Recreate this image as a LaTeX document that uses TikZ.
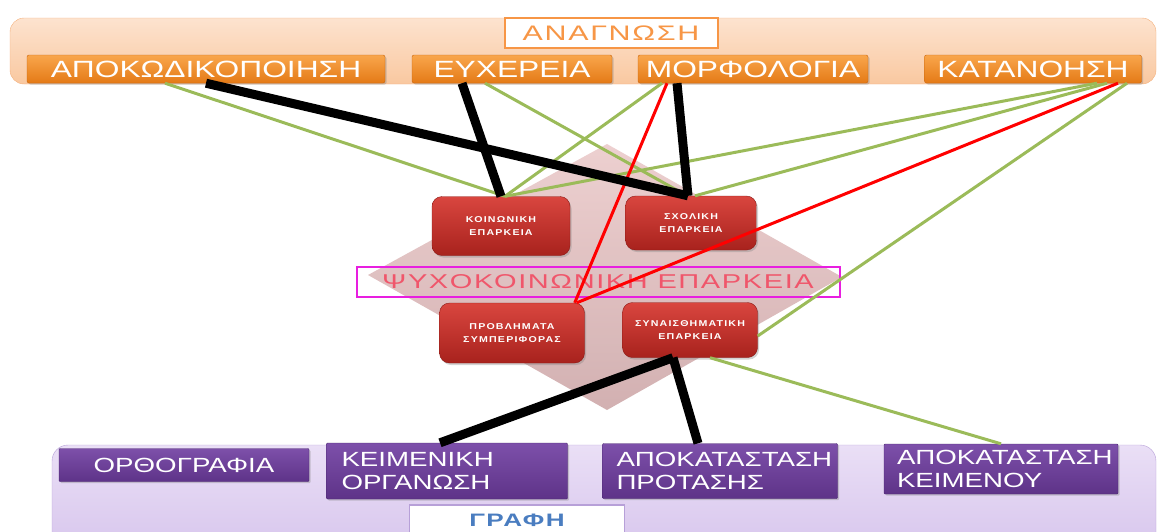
\documentclass[tikz,border=0pt]{standalone}
\usepackage{fontspec}
\setmainfont{Liberation Sans}
\newfontfamily\widefont[FakeStretch=1.35]{Liberation Sans}
\newfontfamily\labelfont[FakeStretch=1.45,LetterSpace=8]{Liberation Sans}
\newfontfamily\redfont[FakeStretch=1.25,LetterSpace=14]{Liberation Sans}
\usetikzlibrary{shadows}

\definecolor{peachtop}{HTML}{FDE3CF}
\definecolor{peachbot}{HTML}{F9C8A0}
\definecolor{peachedge}{HTML}{F4B07C}
\definecolor{orangetop}{HTML}{F9A64C}
\definecolor{orangebot}{HTML}{E47A16}
\definecolor{orangeedge}{HTML}{C8650E}
\definecolor{orangetext}{HTML}{F79646}
\definecolor{redtop}{HTML}{D9463F}
\definecolor{redbot}{HTML}{A8221D}
\definecolor{rededge}{HTML}{8A1A16}
\definecolor{pinktop}{HTML}{EBCBCB}
\definecolor{pinkbot}{HTML}{CDA8A9}
\definecolor{labelpink}{HTML}{F0566B}
\definecolor{framemagenta}{HTML}{E81EE0}
\definecolor{lilactop}{HTML}{EADFF6}
\definecolor{lilacbot}{HTML}{D4C1EB}
\definecolor{lilacedge}{HTML}{B7A0D8}
\definecolor{purpletop}{HTML}{7D50AA}
\definecolor{purplebot}{HTML}{5E3388}
\definecolor{purpleedge}{HTML}{4B2870}
\definecolor{writeblue}{HTML}{4A7DC0}
\definecolor{linkgreen}{HTML}{9BBB59}

\tikzset{
  readbox/.style={draw=orangeedge, top color=orangetop, bottom color=orangebot,
    rounded corners=2pt, inner sep=0pt, text=white,
    font=\widefont\fontsize{23.5}{26}\selectfont,
    drop shadow={opacity=0.35, shadow xshift=1.5pt, shadow yshift=-1.5pt}},
  skillbox/.style={draw=rededge, top color=redtop, bottom color=redbot,
    rounded corners=10pt, inner sep=0pt, text=white, align=center,
    font=\redfont\bfseries\fontsize{8.5}{13}\selectfont,
    drop shadow={opacity=0.35, shadow xshift=1.5pt, shadow yshift=-2pt}},
  writebox/.style={draw=purpleedge, top color=purpletop, bottom color=purplebot,
    rounded corners=1pt, inner sep=0pt, text=white,
    font=\widefont\fontsize{20.5}{23}\selectfont,
    drop shadow={opacity=0.35, shadow xshift=1.5pt, shadow yshift=-1.5pt}},
  blackline/.style={line width=9pt, black},
  greenline/.style={line width=3pt, linkgreen},
  redline/.style={line width=3pt, red}
}

\begin{document}
\begin{tikzpicture}[x=1pt,y=-1pt]
\useasboundingbox (0,0) rectangle (1158,531);
\clip (0,0) rectangle (1158,531);

\draw[draw=peachedge, top color=peachtop, bottom color=peachbot, rounded corners=14pt] (10,18) rectangle (1156,84);
\draw[draw=lilacedge, top color=lilactop, bottom color=lilacbot, rounded corners=16pt] (52,445) rectangle (1156,570);

\node[draw=orangetext, line width=2pt, fill=white, minimum width=213pt, minimum height=30pt, inner sep=0pt,
  text=orangetext, font=\labelfont\fontsize{21}{23}\selectfont] (anagnosi) at (611,33) {ΑΝΑΓΝΩΣΗ};
\node[readbox, minimum width=358pt, minimum height=28pt] (apok) at (206,69) {ΑΠΟΚΩΔΙΚΟΠΟΙΗΣΗ};
\node[readbox, minimum width=200pt, minimum height=28pt] (eux) at (512,69) {ΕΥΧΕΡΕΙΑ};
\node[readbox, minimum width=230pt, minimum height=28pt] (morf) at (753,69) {ΜΟΡΦΟΛΟΓΙΑ};
\node[readbox, minimum width=217pt, minimum height=28pt] (katan) at (1033,69) {ΚΑΤΑΝΟΗΣΗ};

\shade[top color=pinktop, bottom color=pinkbot, opacity=0.9] (607,144) -- (842,277) -- (607,410) -- (368,275) -- cycle;

\node[skillbox, minimum width=138pt, minimum height=59pt] (koin) at (501,226) {ΚΟΙΝΩΝΙΚΗ\\ΕΠΑΡΚΕΙΑ};
\node[skillbox, minimum width=131pt, minimum height=54pt] (sxol) at (691,223) {ΣΧΟΛΙΚΗ\\ΕΠΑΡΚΕΙΑ};
\node[skillbox, minimum width=145pt, minimum height=60pt] (provl) at (512,333) {ΠΡΟΒΛΗΜΑΤΑ\\ΣΥΜΠΕΡΙΦΟΡΑΣ};
\node[skillbox, minimum width=135pt, minimum height=55pt] (synais) at (690,330) {ΣΥΝΑΙΣΘΗΜΑΤΙΚΗ\\ΕΠΑΡΚΕΙΑ};

\node[draw=framemagenta, line width=2pt, minimum width=483pt, minimum height=30pt, inner sep=0pt,
  text=labelpink, font=\labelfont\fontsize{20}{22}\selectfont] (psycho) at (598,282) {ΨΥΧΟΚΟΙΝΩΝΙΚΗ ΕΠΑΡΚΕΙΑ};

\node[writebox, minimum width=250pt, minimum height=33pt] (orth) at (184,465) {ΟΡΘΟΓΡΑΦΙΑ};
\node[writebox, minimum width=241pt, minimum height=56pt, text width=211pt, inner xsep=15pt, align=left] (keim) at (447,471) {ΚΕΙΜΕΝΙΚΗ\\ΟΡΓΑΝΩΣΗ};
\node[writebox, minimum width=235pt, minimum height=55pt, text width=207pt, inner xsep=14pt, align=left] (prot) at (720,471) {ΑΠΟΚΑΤΑΣΤΑΣΗ\\ΠΡΟΤΑΣΗΣ};
\node[writebox, minimum width=234pt, minimum height=50pt, text width=208pt, inner xsep=13pt, align=left] (keimenou) at (1001,469) {ΑΠΟΚΑΤΑΣΤΑΣΗ\\ΚΕΙΜΕΝΟΥ};
\node[draw=lilacedge, line width=1.5pt, fill=white, minimum width=215pt, minimum height=30pt, inner sep=0pt,
  text=writeblue, font=\labelfont\bfseries\fontsize{18}{20}\selectfont] (grafi) at (517,520) {ΓΡΑΦΗ};

\draw[greenline] ([xshift=-41pt]apok.south) -- ([xshift=4pt]koin.north);
\draw[greenline] ([xshift=-27pt]eux.south) -- ([xshift=-4pt]sxol.north);
\draw[greenline] ([xshift=-91pt]morf.south) -- ([xshift=4pt]koin.north);
\draw[greenline] ([xshift=64pt]katan.south) -- ([xshift=4pt]koin.north);
\draw[greenline] ([xshift=74pt]katan.south) -- ([xshift=4pt]sxol.north);
\draw[greenline] ([xshift=94pt]katan.south) -- ([yshift=-6pt]synais.east);
\draw[greenline] ([xshift=20pt]synais.south) -- (keimenou.north);
\draw[redline] ([xshift=-86pt]morf.south) -- ([xshift=-10pt]provl.north east);
\draw[redline] ([xshift=85pt]katan.south) -- ([xshift=-8pt]provl.north east);
\draw[blackline] (apok.south) -- ([xshift=-3pt]sxol.north);
\draw[blackline] ([xshift=-50pt]eux.south) -- (koin.north);
\draw[blackline] ([xshift=-76pt]morf.south) -- ([xshift=-3pt]sxol.north);
\draw[blackline] ([xshift=-17pt]synais.south) -- ([xshift=-7pt]keim.north);
\draw[blackline] ([xshift=-17pt]synais.south) -- ([xshift=-22pt]prot.north);
\end{tikzpicture}
\end{document}
